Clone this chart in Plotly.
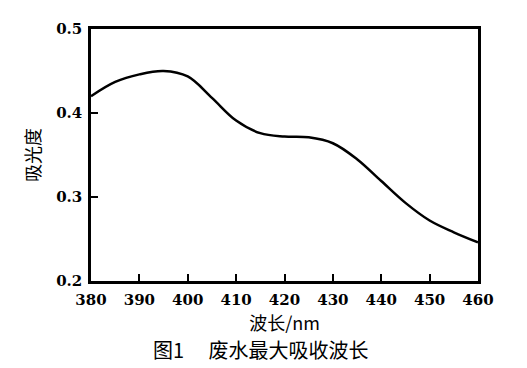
import plotly.graph_objects as go

wavelength = [380, 385, 390, 395, 400, 405, 410, 415, 420, 425, 430, 435, 440, 445, 450, 455, 460]
absorbance = [0.420, 0.437, 0.446, 0.450, 0.4435, 0.418, 0.391, 0.376, 0.372, 0.371, 0.364, 0.345, 0.319, 0.293, 0.272, 0.258, 0.246]

x_ticks = [380, 390, 400, 410, 420, 430, 440, 450, 460]
y_ticks = [0.2, 0.3, 0.4, 0.5]

fig = go.Figure()
fig.add_trace(go.Scatter(
    x=wavelength, y=absorbance, mode="lines",
    line=dict(color="black", width=2.5, shape="spline", smoothing=1.0),
    showlegend=False, hoverinfo="skip"))

tick_font = dict(family="DejaVu Serif", size=15, color="black", weight="bold")
cjk = "Noto Sans CJK SC"

fig.update_layout(
    width=519, height=360,
    margin=dict(l=83, r=49, t=14, b=87),
    paper_bgcolor="white", plot_bgcolor="white",
    xaxis=dict(range=[380, 460], tickvals=x_ticks, ticktext=[str(v) for v in x_ticks],
               ticks="inside", ticklen=7, tickwidth=2, tickcolor="black",
               showline=True, linecolor="black", linewidth=2.5, mirror=True,
               showgrid=False, zeroline=False, tickfont=tick_font, ticklabelstandoff=3,
               title=dict(text="波长/nm", font=dict(family=cjk, size=18, color="black"), standoff=3)),
    yaxis=dict(range=[0.2, 0.5], tickvals=y_ticks, ticktext=["0.2", "0.3", "0.4", "0.5"],
               ticks="inside", ticklen=7, tickwidth=2, tickcolor="black",
               showline=True, linecolor="black", linewidth=2.5, mirror=True,
               showgrid=False, zeroline=False, tickfont=tick_font, ticklabelstandoff=3,
               title=dict(text="吸光度", font=dict(family=cjk, size=18, color="black"), standoff=11)),
    annotations=[dict(text="图1\u3000 废水最大吸收波长", x=0.44, y=-0.27, xref="paper", yref="paper",
                      showarrow=False, font=dict(family=cjk, size=20, color="black"),
                      xanchor="center", yanchor="middle")],
)

fig.write_html("out.html")
